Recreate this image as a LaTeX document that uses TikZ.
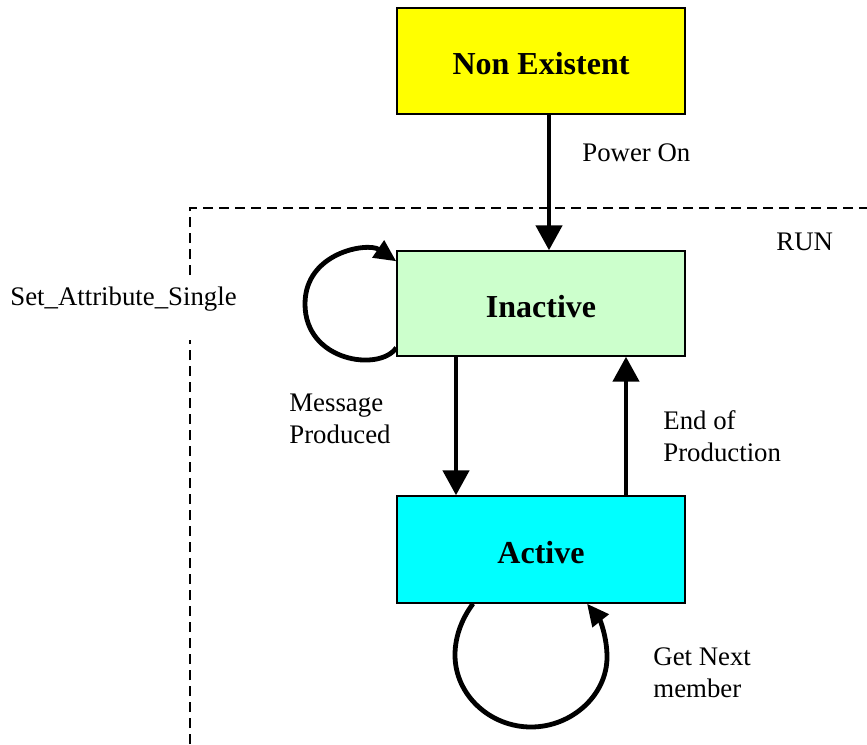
\documentclass[tikz,border=0pt]{standalone}
\usepackage{fontspec}
\setmainfont{Liberation Serif}
\usetikzlibrary{arrows.meta}
\begin{document}
\begin{tikzpicture}[x=0.5pt,y=-0.5pt,
  state/.style={draw=black,line width=0.7pt,minimum width=144pt,inner sep=0pt,
    text height=13.5pt,text depth=0pt,
    font=\fontsize{16}{19}\selectfont\bfseries},
  lbl/.style={inner sep=0pt,align=left,anchor=west,font=\fontsize{13.4}{16}\selectfont},
  trans/.style={line width=2.3pt,-{Triangle[length=12.5pt,width=13pt]}},
  loop/.style={line width=2.4pt,-{Triangle[length=11pt,width=10pt]}},
  runbox/.style={line width=1pt,dash pattern=on 5pt off 3pt}]
\useasboundingbox (0,0) rectangle (867,744);
% RUN region
\coordinate (rl) at (190,744);
\coordinate (rg1) at (190,340);
\coordinate (rg2) at (190,275);
\coordinate (rc) at (190,208);
\coordinate (rr) at (867,208);
\draw[runbox] (rl) -- (rg1);
\draw[runbox] (rg2) -- (rc) -- (rr);
% states
\node[state,fill={rgb,255:red,255;green,255;blue,0},minimum height=53pt] (ne) at (541,61) {Non Existent};
\node[state,fill={rgb,255:red,204;green,255;blue,204},minimum height=52.5pt] (in) at (541,303.5) {Inactive};
\node[state,fill={rgb,255:red,0;green,255;blue,255},minimum height=53.5pt] (ac) at (541,549.5) {Active};
% transitions
\draw[trans] ([xshift=4pt]ne.south) -- ([xshift=4pt]in.north);
\draw[trans] ([xshift=-42.5pt]in.south) -- ([xshift=-42.5pt]ac.north);
\draw[trans] ([xshift=42.5pt]ac.north) -- ([xshift=42.5pt]in.north |- in.south);
% self loops
\draw[loop] ([yshift=4.5pt]in.south west) .. controls (380,372) and (305,362) .. (305,304)
  .. controls (305,252) and (368,242) .. ([yshift=-5.5pt]in.north west);
\draw[loop] ([xshift=-34pt]ac.south) .. controls (463,617) and (455,635) .. (455,655)
  .. controls (455,695) and (490,727) .. (531,727)
  .. controls (572,727) and (607,695) .. (607,657)
  .. controls (607,637) and (600,620) .. ([xshift=23pt]ac.south);
% labels
\node[lbl] (lpo) at (582,153) {Power On};
\node[lbl] (lrun) at (776,242) {RUN};
\node[lbl] (lset) at (10,299) {Set\_Attribute\_Single};
\node[lbl] (lmp) at (289,419) {Message\\Produced};
\node[lbl] (lep) at (663,436.5) {End of\\Production};
\node[lbl] (lgn) at (653,673) {Get Next\\member};
\end{tikzpicture}
\end{document}
